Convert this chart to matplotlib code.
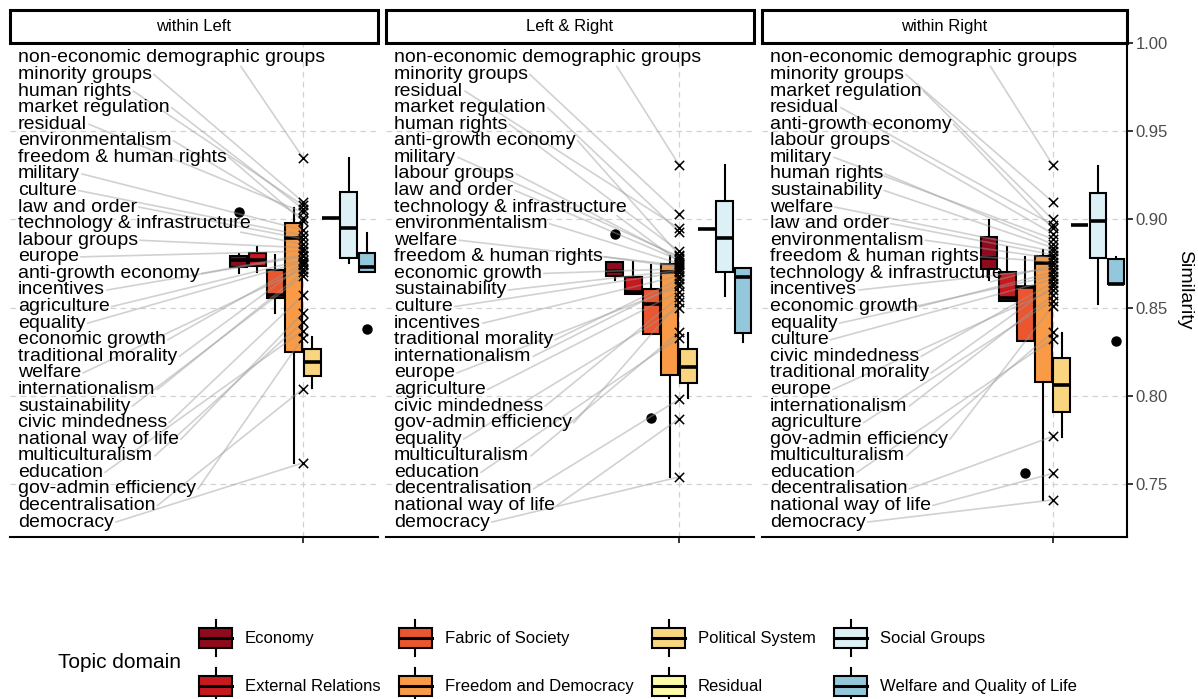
import numpy as np
import matplotlib
matplotlib.use('Agg')
import matplotlib.pyplot as plt
from matplotlib.patches import Rectangle
from matplotlib.lines import Line2D
from matplotlib.legend_handler import HandlerBase

plt.rcParams['font.family'] = ['Liberation Sans', 'DejaVu Sans']

# ---- data ---------------------------------------------------------------
panels = ['within Left', 'Left & Right', 'within Right']

domains = ['Economy', 'External Relations', 'Fabric of Society',
           'Freedom and Democracy', 'Political System', 'Residual',
           'Social Groups', 'Welfare and Quality of Life']
domain_colors = ['#8e0a1c', '#c8191f', '#e9562f', '#f99b46',
                 '#f8d57e', '#fdfba8', '#dcf0f6', '#93c8dc']

# box statistics, one row per panel, one column per domain
whisker_low = [[0.8694, 0.8704, 0.8467, 0.7617, 0.8042, 0.9010, 0.8751, 0.8704],
               [0.8656, 0.8577, 0.8350, 0.7541, 0.7986, 0.8944, 0.8568, 0.8307],
               [0.8656, 0.8540, 0.8312, 0.7409, 0.7768, 0.8968, 0.8520, 0.8632]]
box_q1 = [[0.8732, 0.8736, 0.8553, 0.8250, 0.8112, 0.9010, 0.8783, 0.8704],
          [0.8679, 0.8577, 0.8350, 0.8118, 0.8071, 0.8944, 0.8704, 0.8354],
          [0.8717, 0.8539, 0.8312, 0.8080, 0.7910, 0.8968, 0.8783, 0.8632]]
box_median = [[0.8770, 0.8770, 0.8571, 0.8893, 0.8193, 0.9010, 0.8949, 0.8732],
              [0.8707, 0.8590, 0.8520, 0.8700, 0.8165, 0.8944, 0.8893, 0.8672],
              [0.8780, 0.8553, 0.8619, 0.8751, 0.8061, 0.8968, 0.8991, 0.8632]]
box_q3 = [[0.8792, 0.8808, 0.8713, 0.8978, 0.8264, 0.9010, 0.9157, 0.8811],
          [0.8757, 0.8675, 0.8605, 0.8745, 0.8264, 0.8944, 0.9104, 0.8727],
          [0.8902, 0.8700, 0.8619, 0.8792, 0.8213, 0.8968, 0.9151, 0.8774]]
whisker_high = [[0.8805, 0.8845, 0.8798, 0.9063, 0.8335, 0.9010, 0.9346, 0.8921],
                [0.8757, 0.8760, 0.8742, 0.8792, 0.8354, 0.8944, 0.9308, 0.8727],
                [0.8997, 0.8845, 0.8789, 0.8827, 0.8358, 0.8968, 0.9303, 0.8789]]
outlier_domain = [[0, 7], [0, 2], [2, 7]]
outlier_value = [[0.904, 0.838], [0.8916, 0.7872], [0.756, 0.8311]]

# topics, sorted by similarity within each panel
topics_left = ['non-economic demographic groups', 'minority groups', 'human rights',
               'market regulation', 'residual', 'environmentalism',
               'freedom & human rights', 'military', 'culture', 'law and order',
               'technology & infrastructure', 'labour groups', 'europe',
               'anti-growth economy', 'incentives', 'agriculture', 'equality',
               'economic growth', 'traditional morality', 'welfare',
               'internationalism', 'sustainability', 'civic mindedness',
               'national way of life', 'multiculturalism', 'education',
               'gov-admin efficiency', 'decentralisation', 'democracy']
values_left = [0.935, 0.910, 0.908, 0.906, 0.904, 0.901, 0.899, 0.894, 0.891,
               0.889, 0.886, 0.884, 0.882, 0.880, 0.879, 0.877, 0.876, 0.875,
               0.874, 0.872, 0.870, 0.868, 0.857, 0.847, 0.842, 0.837, 0.833,
               0.804, 0.762]

topics_both = ['non-economic demographic groups', 'minority groups', 'residual',
               'market regulation', 'human rights', 'anti-growth economy',
               'military', 'labour groups', 'law and order',
               'technology & infrastructure', 'environmentalism', 'welfare',
               'freedom & human rights', 'economic growth', 'sustainability',
               'culture', 'incentives', 'traditional morality', 'internationalism',
               'europe', 'agriculture', 'civic mindedness', 'gov-admin efficiency',
               'equality', 'multiculturalism', 'education', 'decentralisation',
               'national way of life', 'democracy']
values_both = [0.931, 0.903, 0.895, 0.893, 0.882, 0.880, 0.879, 0.878, 0.877,
               0.876, 0.875, 0.874, 0.873, 0.872, 0.871, 0.870, 0.868, 0.866,
               0.864, 0.862, 0.859, 0.856, 0.853, 0.850, 0.836, 0.833, 0.798,
               0.787, 0.754]

topics_right = ['non-economic demographic groups', 'minority groups',
                'market regulation', 'residual', 'anti-growth economy',
                'labour groups', 'military', 'human rights', 'sustainability',
                'welfare', 'law and order', 'environmentalism',
                'freedom & human rights', 'technology & infrastructure',
                'incentives', 'economic growth', 'equality', 'culture',
                'civic mindedness', 'traditional morality', 'europe',
                'internationalism', 'agriculture', 'gov-admin efficiency',
                'multiculturalism', 'education', 'decentralisation',
                'national way of life', 'democracy']
values_right = [0.931, 0.910, 0.900, 0.897, 0.895, 0.892, 0.889, 0.886, 0.884,
                0.882, 0.880, 0.878, 0.876, 0.874, 0.872, 0.870, 0.868, 0.866,
                0.864, 0.862, 0.860, 0.857, 0.854, 0.851, 0.836, 0.832, 0.777,
                0.756, 0.741]

topic_labels = [topics_left, topics_both, topics_right]
topic_values = [values_left, values_both, values_right]

# ---- layout ---------------------------------------------------------------
W, H = 1198, 699
fig = plt.figure(figsize=(W / 100, H / 100), dpi=100)

panel_px = [(10, 378), (386, 754), (762, 1127)]
top_px, bot_px = 43, 537
xlim = (-0.6, 1.41)
ylim = (0.72, 1.0)
positions = 1 + (np.arange(len(domains)) - 3.5) * 0.1

axes = []
for p, (l, r) in enumerate(panel_px):
    ax = fig.add_axes([l / W, 1 - bot_px / H, (r - l) / W, (bot_px - top_px) / H])
    ax.set_xlim(*xlim)
    ax.set_ylim(*ylim)
    ax.set_xticks([1])
    ax.set_xticklabels([])
    ax.set_yticks([0.75, 0.80, 0.85, 0.90, 0.95, 1.00])
    ax.grid(True, color='#d2d2d2', linestyle=(0, (4.5, 3.5)), linewidth=0.9)
    ax.set_axisbelow(True)
    for s in ['top', 'left', 'right']:
        ax.spines[s].set_visible(False)
    ax.spines['bottom'].set_linewidth(1.5)
    ax.tick_params(axis='x', length=4, width=1.1, color='black')
    if p == 2:
        ax.spines['right'].set_visible(True)
        ax.spines['right'].set_linewidth(1.5)
        ax.yaxis.tick_right()
        ax.tick_params(axis='y', length=4, width=1.1, labelsize=12,
                       labelcolor='#4d4d4d', pad=2)
        ax.set_yticklabels(['0.75', '0.80', '0.85', '0.90', '0.95', '1.00'])
    else:
        ax.tick_params(axis='y', length=0, labelleft=False)

    # boxes
    stats = []
    for d in range(len(domains)):
        fl = [v for dd, v in zip(outlier_domain[p], outlier_value[p]) if dd == d]
        stats.append(dict(med=box_median[p][d], q1=box_q1[p][d], q3=box_q3[p][d],
                          whislo=whisker_low[p][d], whishi=whisker_high[p][d],
                          fliers=fl))
    bp = ax.bxp(stats, positions=positions, widths=0.092, patch_artist=True,
                showcaps=False, manage_ticks=False,
                boxprops=dict(edgecolor='black', linewidth=1.5),
                medianprops=dict(color='black', linewidth=2.6, solid_capstyle='butt'),
                whiskerprops=dict(color='black', linewidth=1.5),
                flierprops=dict(marker='o', markerfacecolor='black',
                                markeredgecolor='black', markersize=6.5))
    for patch, c in zip(bp['boxes'], domain_colors):
        patch.set_facecolor(c)
        patch.set_zorder(2)

    # strip
    strip_h = (top_px - 10) / (bot_px - top_px)
    ax.add_patch(Rectangle((0, 1), 1, strip_h, transform=ax.transAxes,
                           facecolor='white', edgecolor='black', linewidth=2.2,
                           clip_on=False, zorder=6))
    ax.text(0.5, 1 + strip_h / 2, panels[p], transform=ax.transAxes,
            ha='center', va='center', fontsize=12, zorder=7)
    axes.append(ax)

# topic markers and repelled labels
label_y = np.linspace(0.9915, 0.7285, 29)
label_x = xlim[0] + 0.044
texts = []
for p, ax in enumerate(axes):
    ax.scatter([1] * len(topic_values[p]), topic_values[p], marker='x', s=45,
               color='black', linewidths=1.1, zorder=5)
    tt = []
    for name, ly in zip(topic_labels[p], label_y):
        tt.append(ax.text(label_x, ly, name, fontsize=14, ha='left',
                          va='center', zorder=6))
    texts.append(tt)

fig.canvas.draw()
renderer = fig.canvas.get_renderer()
for p, ax in enumerate(axes):
    inv = ax.transData.inverted()
    for txt, v in zip(texts[p], topic_values[p]):
        bb = txt.get_window_extent(renderer)
        mx, my = ax.transData.transform((1, v))
        if bb.x1 + 2 < mx - 62:
            sx, sy = bb.x1 + 2, (bb.y0 + bb.y1) / 2
        else:
            sx, sy = mx - 62, bb.y0
        (x0, y0), (x1, y1) = inv.transform([(sx, sy), (mx, my)])
        ax.plot([x0, x1], [y0, y1], color='#9a9a9a', alpha=0.45,
                linewidth=1.2, zorder=4)

fig.text(1185 / W, 1 - 290 / H, 'Similarity', rotation=-90, fontsize=14,
         ha='center', va='center')


# ---- legend ---------------------------------------------------------------
class BoxKey(HandlerBase):
    def create_artists(self, legend, orig_handle, xdescent, ydescent,
                       width, height, fontsize, trans):
        x0, y0 = -xdescent, -ydescent
        bh = height * 0.56
        by = y0 + (height - bh) / 2
        cx = x0 + width / 2
        w1 = Line2D([cx, cx], [y0, by], color='black', lw=1.5, transform=trans)
        w2 = Line2D([cx, cx], [by + bh, y0 + height], color='black', lw=1.5,
                    transform=trans)
        box = Rectangle((x0, by), width, bh, facecolor=orig_handle.get_facecolor(),
                        edgecolor='black', lw=1.5, transform=trans)
        med = Line2D([x0, x0 + width], [y0 + height / 2] * 2, color='black',
                     lw=2.2, transform=trans)
        return [w1, w2, box, med]


handles = [Rectangle((0, 0), 1, 1, facecolor=c, edgecolor='black')
           for c in domain_colors]
fig.legend(handles, domains, handler_map={Rectangle: BoxKey()}, ncol=4,
           loc='upper left', bbox_to_anchor=(199 / W, 1 - 620 / H),
           frameon=False, fontsize=12, handlelength=1.98, handleheight=2.95,
           handletextpad=0.78, columnspacing=1.1, labelspacing=0.72,
           borderpad=0, borderaxespad=0)
fig.text(58 / W, 1 - 662 / H, 'Topic domain', fontsize=15, ha='left',
         va='center')

fig.savefig('out.png', dpi=100)
